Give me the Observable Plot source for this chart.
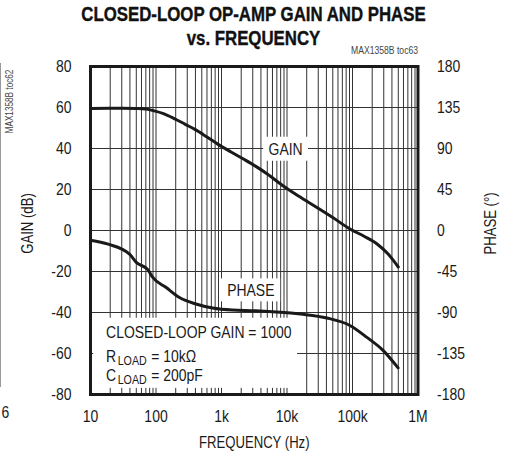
<!DOCTYPE html>
<html><head><meta charset="utf-8">
<script src="https://cdn.jsdelivr.net/npm/d3@7"></script>
<script src="https://cdn.jsdelivr.net/npm/@observablehq/plot@0.6"></script>
<style>
body{margin:0;background:#fff;}
#wrap{position:relative;width:513px;height:458px;font-family:"Liberation Sans",Arial,sans-serif;}
#title{position:absolute;left:0;top:2px;width:507px;text-align:center;font-weight:bold;font-size:20.5px;line-height:24px;color:#111;z-index:2;transform:scaleX(0.82);transform-origin:253.5px 0;-webkit-text-stroke:0.4px #111;}
#edge{position:absolute;left:0;top:63px;width:1px;height:324px;background:#999;z-index:2;}
#chart{position:absolute;left:0;top:0;}
</style></head><body>
<div id="wrap"><div id="title">CLOSED-LOOP OP-AMP GAIN AND PHASE<br>vs. FREQUENCY</div><div id="edge"></div><div id="chart"></div></div>
<script>
// Gain curve (Hz, dB)
const gainFreq = [10, 20, 30, 50, 70, 90, 130, 190, 280, 400, 600, 900, 1400, 2100, 3300, 5000, 8900, 15000, 29000, 50000, 93000, 150000, 240000, 350000, 500000];
const gainDb   = [59.5, 59.6, 59.6, 59.5, 59.3, 58.5, 57.0, 54.6, 51.8, 49.2, 45.6, 41.9, 38.3, 35.1, 31.4, 27.6, 21.6, 16.8, 11.1, 6.3, 0.6, -2.8, -6.7, -11.5, -17.8];
// Phase curve (Hz, degrees)
const phaseFreq = [10, 18.6, 39.5, 50, 75, 88, 143, 228, 407, 733, 1470, 3300, 16100, 40700, 92700, 166000, 295000, 497000];
const phaseDeg  = [-10.7, -15, -26, -35, -43, -51, -62.6, -73.5, -80.7, -85.1, -87.3, -88, -91.7, -96, -104.5, -117.3, -131.8, -150.8];

const gainTicks = [-80, -60, -40, -20, 0, 20, 40, 60, 80];
const phaseTicks = [-180, -135, -90, -45, 0, 45, 90, 135, 180];
const xTicks = [10, 100, 1000, 10000, 100000, 1000000];
const xTickLabels = ["10", "100", "1k", "10k", "100k", "1M"];
const gridY = [-60, -40, -20, 0, 20, 40, 60];

// text labels inside plot
const labelText = ["GAIN", "PHASE"];
const labelFreq = [9530, 2800];
const labelY = [39.6, -29.4];
const boxF1 = [4400, 980, 11.2];
const boxF2 = [21300, 8000, 14500];
const boxY1 = [33.8, -34.8, -77];
const boxY2 = [45.5, -23.6, -42.8];
const noteLines = ["CLOSED-LOOP GAIN = 1000", "R|LOAD|= 10kΩ", "C|LOAD|= 200pF"];
const noteY = [-52.6, -64, -73.3];
const noteF = 17.3;

const degToDb = d => d * 80 / 180;
const gain = gainFreq.map((f, i) => ({f, v: gainDb[i]}));
const phase = phaseFreq.map((f, i) => ({f, v: degToDb(phaseDeg[i])}));
const xGrid = [];
for (let k = 1; k <= 5; k++) for (let m = 1; m <= 9; m++) if (!(k === 1 && m === 1)) xGrid.push(m * Math.pow(10, k));
const xLab = new Map(xTicks.map((t, i) => [t, xTickLabels[i]]));
const labels = labelText.map((t, i) => ({t, f: labelFreq[i], y: labelY[i]}));
const boxes = boxF1.map((f, i) => ({f1: f, f2: boxF2[i], y1: boxY1[i], y2: boxY2[i]}));
const notes = noteLines.map((t, i) => ({t, y: noteY[i], f: noteF}));
const ink = "#1a1a1a";
const mid = {textAnchor: "middle", lineAnchor: "middle"};

const plot = Plot.plot({
  width: 513, height: 458,
  marginLeft: 90, marginRight: 95.5, marginTop: 66, marginBottom: 64,
  style: {fontFamily: '"Liberation Sans",Arial,sans-serif', fontSize: "17px", color: ink, background: "white"},
  x: {type: "log", domain: [10, 1e6]},
  y: {domain: [-80, 80]},
  marks: [
    Plot.ruleX(xGrid, {stroke: "#333", strokeWidth: 1}),
    Plot.ruleY(gridY, {stroke: "#333", strokeWidth: 1}),
    Plot.rect(boxes, {x1: "f1", x2: "f2", y1: "y1", y2: "y2", fill: "white"}),
    Plot.frame({stroke: ink, strokeWidth: 3}),
    Plot.line(gain, {x: "f", y: "v", stroke: ink, strokeWidth: 3, curve: "monotone-x"}),
    Plot.line(phase, {x: "f", y: "v", stroke: ink, strokeWidth: 3, curve: "monotone-x"}),
    Plot.axisY({anchor: "left", ticks: gainTicks, tickSize: 0, tickPadding: 19, tickFormat: d => String(d), label: null, fill: ink}),
    Plot.axisY({anchor: "right", ticks: phaseTicks.map(degToDb), tickSize: 0, tickPadding: 19, tickFormat: d => String(Math.round(d * 180 / 80)), label: null, fill: ink}),
    Plot.axisX({ticks: xTicks, tickSize: 0, tickPadding: 15, tickFormat: d => xLab.get(d), label: null, fill: ink}),
    Plot.text(labels, {x: "f", y: "y", text: "t", fontSize: 17, fill: ink}),
    Plot.text(notes, {x: "f", y: "y", text: "t", textAnchor: "start", lineAnchor: "bottom", fontSize: 17, fill: ink}),
    Plot.text(["GAIN (dB)"], {frameAnchor: "left", dx: -63, dy: -7, rotate: -90, fontSize: 16, fill: ink, ...mid}),
    Plot.text(["PHASE (°)"], {frameAnchor: "right", dx: 72.5, dy: -7, rotate: -90, fontSize: 16, fill: ink, ...mid}),
    Plot.text(["FREQUENCY (Hz)"], {frameAnchor: "bottom", dy: 48, fontSize: 16, fill: ink, ...mid}),
    Plot.text(["MAX1358B toc63"], {frameAnchor: "top-right", dy: -13, textAnchor: "end", lineAnchor: "bottom", fontSize: 10.5, fill: "#444"}),
    Plot.text(["MAX1358B toc62"], {frameAnchor: "top-left", dx: -81, dy: 35, rotate: -90, fontSize: 10, fill: "#444", ...mid}),
    Plot.text(["6"], {frameAnchor: "bottom-left", dx: -85, dy: 18, fontSize: 17, fill: ink, ...mid})
  ]
});
document.getElementById("chart").appendChild(plot);
const squeeze = el => {
  const L = el.getComputedTextLength();
  if (L > 0) {
    el.setAttribute("textLength", (L * 0.82).toFixed(2));
    el.setAttribute("lengthAdjust", "spacingAndGlyphs");
  }
  return L * 0.82;
};
// condensed look: compress every text horizontally
d3.select(plot).selectAll("text").each(function() { squeeze(this); });
// subscripts: split "R|LOAD|= 10kΩ" into three adjacent texts
d3.select(plot).selectAll("text").each(function() {
  const s = this.textContent;
  if (!s.includes("|")) return;
  const parts = s.split("|");
  const base = this.getAttribute("transform") || "";
  let off = 0;
  parts.forEach((p, k) => {
    const c = this.cloneNode(false);
    c.removeAttribute("textLength");
    c.removeAttribute("lengthAdjust");
    c.textContent = p;
    if (k === 1) c.setAttribute("font-size", 13);
    c.setAttribute("transform", `${base} translate(${off.toFixed(2)},${k === 1 ? 3 : 0})`);
    this.parentNode.insertBefore(c, this);
    off += squeeze(c) + (k === 1 ? 4.5 : 1.5);
  });
  this.remove();
});
</script>
</body></html>
